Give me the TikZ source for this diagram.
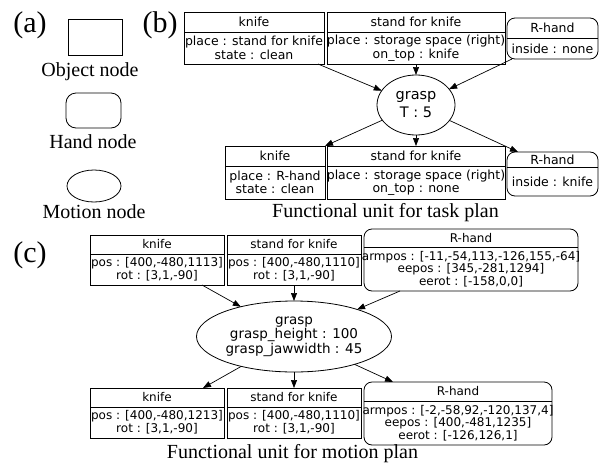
\documentclass[tikz,border=0pt]{standalone}
\usepackage{fontspec}
\setmainfont{Liberation Serif}
\newfontfamily\nodefont{DejaVu Sans}
\usetikzlibrary{shapes.geometric,calc,arrows.meta}

\newcommand{\fontb}{\nodefont\fontsize{12.5}{13.5}\selectfont}
\newcommand{\fontc}{\nodefont\fontsize{12}{12.6}\selectfont}

% #1 name, #2 style, #3 x1, #4 y1, #5 x2, #6 y2, #7 divider y, #8 title, #9 body
\newcommand{\unitbox}[9]{%
  \node[#2, minimum width={#5pt-#3pt}, minimum height={#6pt-#4pt}] (#1) at ({(#3+#5)/2},{(#4+#6)/2}) {};
  \draw[boxline] (#3,#7) -- (#5,#7);
  \node[txt] at ({(#3+#5)/2},{(#4+#7)/2}) {#8};
  \node[txt] at ({(#3+#5)/2},{(#7+#6)/2}) {#9};
}

\begin{document}
\begin{tikzpicture}[x=1pt,y=-1pt,
  boxline/.style={line width=0.8pt},
  objbox/.style={draw, line width=0.8pt, inner sep=0pt, outer sep=0pt},
  handbox/.style={objbox, rounded corners=8pt},
  motion/.style={draw, ellipse, line width=0.8pt, inner sep=0pt, outer sep=0pt},
  txt/.style={font=\fontb, inner sep=0pt, align=center},
  caption/.style={font=\fontsize{20}{22}\selectfont, inner sep=0pt},
  panel/.style={font=\fontsize{30}{32}\selectfont, inner sep=0pt},
  arr/.style={-{Triangle[length=8pt,width=6pt]}, line width=0.7pt}]
\useasboundingbox (0,0) rectangle (607,466);

% ---------- (a) legend ----------
\node[panel] (la) at (30,25.5) {(a)};
\node[objbox, minimum width=54pt, minimum height=36pt] (legobj) at (95,37) {};
\node[caption] (legobjt) at (90,72) {Object node};
\node[objbox, rounded corners=10pt, minimum width=55pt, minimum height=35pt] (leghand) at (93.5,110.5) {};
\node[caption] (leghandt) at (93,142) {Hand node};
\node[motion, minimum width=54pt, minimum height=32pt] (legmot) at (94,186) {};
\node[caption] (legmott) at (94,212) {Motion node};

% ---------- (b) task plan ----------
\node[panel] (lb) at (160,25.5) {(b)};
\unitbox{k1}{objbox}{184}{12}{324}{64}{32}{knife}{place : stand for knife\\state : clean}
\unitbox{s1}{objbox}{327}{12}{505}{64}{32}{stand for knife}{place : storage space (right)\\on\_top : knife}
\unitbox{h1}{handbox}{507}{18}{598}{59}{38}{R-hand}{inside : none}

\node[motion, minimum width=78pt, minimum height=60pt] (g1) at (416,105) {};
\node[font=\nodefont\fontsize{14.5}{18}\selectfont, inner sep=0pt, align=center] (g1t) at (g1) {grasp\\T : 5};

\unitbox{k2}{objbox}{225}{146}{325}{199}{166}{knife}{place : R-hand\\state : clean}
\unitbox{s2}{objbox}{327}{146}{505}{199}{166}{stand for knife}{place : storage space (right)\\on\_top : none}
\unitbox{h2}{handbox}{507}{152}{598}{196}{167}{R-hand}{inside : knife}

\draw[arr] ($(k1.south east)+(-6,0)$) -- (g1);
\draw[arr] (s1) -- (g1);
\draw[arr] ($(h1.south west)+(5,0)$) -- (g1);
\draw[arr] (g1) -- (k2.north east);
\draw[arr] (g1) -- (s2);
\draw[arr] (g1) -- ($(h2.north west)+(11,0)$);

\node[caption] (capb) at (385.5,213) {Functional unit for task plan};

% ---------- (c) motion plan ----------
\node[panel] (lc) at (30,255.5) {(c)};
\tikzset{txt/.style={font=\fontc, inner sep=0pt, align=center}}
\unitbox{k3}{objbox}{90}{235}{224}{285}{254}{knife}{pos : [400,-480,1113]\\rot : [3,1,-90]}
\unitbox{s3}{objbox}{227}{235}{361}{285}{254}{stand for knife}{pos : [400,-480,1110]\\rot : [3,1,-90]}
\unitbox{h3}{handbox}{364}{229}{578}{291}{247}{R-hand}{armpos : [-11,-54,113,-126,155,-64]\\eepos : [345,-281,1294]\\eerot : [-158,0,0]}

\node[motion, minimum width=195pt, minimum height=71pt] (g2) at (294,336.5) {};
\node[font=\nodefont\fontsize{13.5}{14.5}\selectfont, inner sep=0pt, align=center] (g2t) at (g2) {grasp\\grasp\_height : 100\\grasp\_jawwidth : 45};

\unitbox{k4}{objbox}{90}{388}{224}{438}{407}{knife}{pos : [400,-480,1213]\\rot : [3,1,-90]}
\unitbox{s4}{objbox}{227}{388}{361}{438}{407}{stand for knife}{pos : [400,-480,1110]\\rot : [3,1,-90]}
\unitbox{h4}{handbox}{364}{382}{552}{445}{401}{R-hand}{armpos : [-2,-58,92,-120,137,4]\\eepos : [400,-481,1235]\\eerot : [-126,126,1]}

\draw[arr] ($(k3.south east)+(-22,0)$) -- (g2);
\draw[arr] (s3) -- (g2);
\draw[arr] ($(h3.south west)+(36,0)$) -- (g2);
\draw[arr] (g2) -- ($(k4.north east)+(-21,0)$);
\draw[arr] (g2) -- (s4);
\draw[arr] (g2) -- ($(h4.north west)+(29,0)$);

\node[caption] (capc) at (292.5,454) {Functional unit for motion plan};
\end{tikzpicture}
\end{document}
